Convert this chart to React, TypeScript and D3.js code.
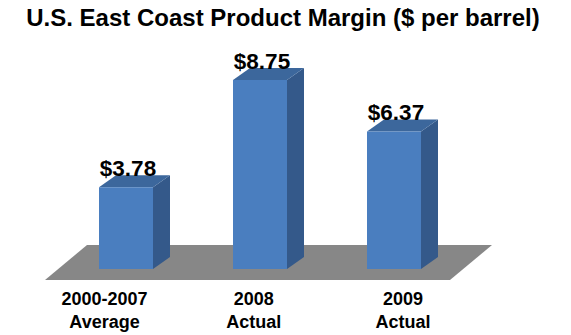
import React from "react";
import * as d3 from "d3";

const categories = ["2000-2007|Average", "2008|Actual", "2009|Actual"];
const values = [3.78, 8.75, 6.37];
const valueLabels = ["$3.78", "$8.75", "$6.37"];
const title = "U.S. East Coast Product Margin ($ per barrel)";

const W = 571;
const H = 335;

export default function App() {
  const barX = d3.scalePoint<string>().domain(categories).range([126, 394]);
  const labelX = d3.scalePoint<string>().domain(categories).range([104.5, 403]);
  const y = d3.scaleLinear().domain([0, 8.75]).range([269, 80]);
  const bw = 54;
  const dx = 17;
  const dy = 12;
  const floor = d3.line()([
    [45, 280],
    [450, 280],
    [492, 245],
    [87, 245],
  ]) + "Z";

  return (
    <svg width={W} height={H} style={{ position: "absolute", left: 0, top: 0, background: "#fff" }}>
      <text
        x={283}
        y={26}
        textAnchor="middle"
        fontFamily="Liberation Sans, Arial, sans-serif"
        fontWeight="bold"
        fontSize={24}
        fill="#000"
      >
        {title}
      </text>
      <path d={floor} fill="#878787" />
      {categories.map((c, i) => {
        const cx = barX(c)!;
        const x0 = cx - bw / 2;
        const x1 = cx + bw / 2;
        const yt = y(values[i]);
        const yb = y(0);
        const front = `M${x0},${yt}H${x1}V${yb}H${x0}Z`;
        const side = `M${x1},${yt}L${x1 + dx},${yt - dy}V${yb - dy}L${x1},${yb}Z`;
        const top = `M${x0},${yt}L${x0 + dx},${yt - dy}H${x1 + dx}L${x1},${yt}Z`;
        return (
          <g key={c}>
            <path d={side} fill="#34598a" />
            <path d={top} fill="#3c679c" />
            <path d={front} fill="#4a7ebf" />
            <text
              x={cx + 2}
              y={yt - dy + 1}
              textAnchor="middle"
              fontFamily="Liberation Sans, Arial, sans-serif"
              fontWeight="bold"
              fontSize={22.5}
              fill="#000"
            >
              {valueLabels[i]}
            </text>
          </g>
        );
      })}
      {categories.map((c) => {
        const [l1, l2] = c.split("|");
        const lx = labelX(c)!;
        return (
          <text
            key={"l" + c}
            textAnchor="middle"
            fontFamily="Liberation Sans, Arial, sans-serif"
            fontWeight="bold"
            fontSize={18}
            fill="#000"
          >
            <tspan x={lx} y={305}>{l1}</tspan>
            <tspan x={lx} y={328}>{l2}</tspan>
          </text>
        );
      })}
    </svg>
  );
}
